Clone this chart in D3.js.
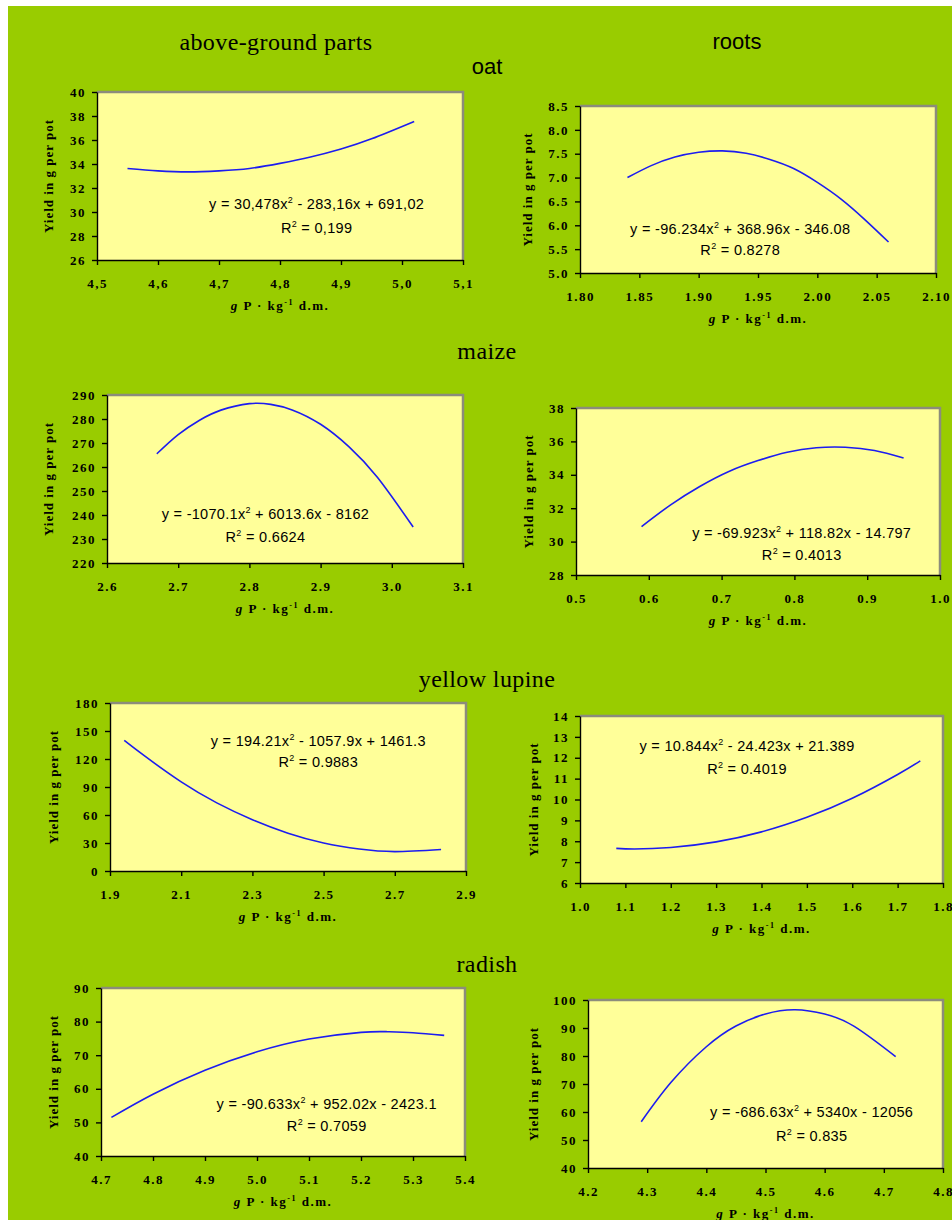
<!DOCTYPE html>
<html>
<head>
<meta charset="utf-8">
<script src="https://cdn.jsdelivr.net/npm/d3@7"></script>
<style>
  body { margin: 0; background: #fff; }
  .tick text { font-family: "Liberation Serif", serif; font-weight: bold; font-size: 13px; letter-spacing: 1.5px; fill: #000; }
  .domain, .tick line { stroke: #000; stroke-width: 1.4; }
</style>
</head>
<body>
<svg id="chart" width="952" height="1220"></svg>
<script>
// headings
const columnTitles = ["above-ground parts", "roots"];
const cropNames = ["oat", "maize", "yellow lupine", "radish"];
const yAxisTitle = "Yield in g per pot";

// oat - above-ground parts
const oatShootX = [4.55, 4.60, 4.65, 4.70, 4.75, 4.80, 4.85, 4.90, 4.95, 5.02];
const oatShootY = [33.62, 33.43, 33.34, 33.43, 33.63, 34.05, 34.58, 35.25, 36.1, 37.55];
const oatShootXTicks = ["4,5", "4,6", "4,7", "4,8", "4,9", "5,0", "5,1"];
const oatShootYTicks = ["26", "28", "30", "32", "34", "36", "38", "40"];
const oatShootEq = ["y = 30,478x", "2", " - 283,16x + 691,02", "R", "2", " = 0,199"];

// oat - roots
const oatRootX = [1.84, 1.86, 1.88, 1.90, 1.92, 1.94, 1.96, 1.98, 2.00, 2.02, 2.04, 2.06];
const oatRootY = [7.0, 7.25, 7.43, 7.53, 7.56, 7.51, 7.38, 7.19, 6.9, 6.55, 6.12, 5.65];
const oatRootXTicks = ["1.80", "1.85", "1.90", "1.95", "2.00", "2.05", "2.10"];
const oatRootYTicks = ["5.0", "5.5", "6.0", "6.5", "7.0", "7.5", "8.0", "8.5"];
const oatRootEq = ["y = -96.234x", "2", " + 368.96x - 346.08", "R", "2", " = 0.8278"];

// maize - above-ground parts
const maizeShootX = [2.67, 2.70, 2.73, 2.76, 2.80, 2.83, 2.86, 2.90, 2.94, 2.98, 3.03];
const maizeShootY = [265.5, 273.5, 279.5, 283.7, 286.4, 286.1, 283.8, 277.8, 268.4, 255.6, 235];
const maizeShootXTicks = ["2.6", "2.7", "2.8", "2.9", "3.0", "3.1"];
const maizeShootYTicks = ["220", "230", "240", "250", "260", "270", "280", "290"];
const maizeShootEq = ["y = -1070.1x", "2", " + 6013.6x - 8162", "R", "2", " = 0.6624"];

// maize - roots
const maizeRootX = [0.59, 0.63, 0.67, 0.71, 0.75, 0.79, 0.83, 0.87, 0.91, 0.95];
const maizeRootY = [30.9, 32.2, 33.3, 34.2, 34.85, 35.35, 35.62, 35.65, 35.45, 35.0];
const maizeRootXTicks = ["0.5", "0.6", "0.7", "0.8", "0.9", "1.0"];
const maizeRootYTicks = ["28", "30", "32", "34", "36", "38"];
const maizeRootEq = ["y = -69.923x", "2", " + 118.82x - 14.797", "R", "2", " = 0.4013"];

// yellow lupine - above-ground parts
const lupineShootX = [1.94, 2.0, 2.1, 2.2, 2.3, 2.4, 2.5, 2.6, 2.7, 2.83];
const lupineShootY = [140, 122.5, 95.5, 73, 55, 40.5, 30, 23.5, 20.8, 23];
const lupineShootXTicks = ["1.9", "2.1", "2.3", "2.5", "2.7", "2.9"];
const lupineShootYTicks = ["0", "30", "60", "90", "120", "150", "180"];
const lupineShootEq = ["y = 194.21x", "2", " - 1057.9x + 1461.3", "R", "2", " = 0.9883"];

// yellow lupine - roots
const lupineRootX = [1.08, 1.12, 1.2, 1.3, 1.4, 1.5, 1.6, 1.7, 1.75];
const lupineRootY = [7.66, 7.63, 7.7, 7.97, 8.45, 9.15, 10.06, 11.2, 11.85];
const lupineRootXTicks = ["1.0", "1.1", "1.2", "1.3", "1.4", "1.5", "1.6", "1.7", "1.8"];
const lupineRootYTicks = ["6", "7", "8", "9", "10", "11", "12", "13", "14"];
const lupineRootEq = ["y = 10.844x", "2", " - 24.423x + 21.389", "R", "2", " = 0.4019"];

// radish - above-ground parts
const radishShootX = [4.72, 4.8, 4.9, 5.0, 5.1, 5.2, 5.25, 5.3, 5.36];
const radishShootY = [51.5, 58.4, 65.5, 71, 74.8, 76.8, 77, 76.7, 75.9];
const radishShootXTicks = ["4.7", "4.8", "4.9", "5.0", "5.1", "5.2", "5.3", "5.4"];
const radishShootYTicks = ["40", "50", "60", "70", "80", "90"];
const radishShootEq = ["y = -90.633x", "2", " + 952.02x - 2423.1", "R", "2", " = 0.7059"];

// radish - roots
const radishRootX = [4.29, 4.34, 4.40, 4.45, 4.50, 4.55, 4.60, 4.65, 4.72];
const radishRootY = [56.5, 70.5, 83.3, 90.7, 95, 96.5, 95, 90.6, 79.8];
const radishRootXTicks = ["4.2", "4.3", "4.4", "4.5", "4.6", "4.7", "4.8"];
const radishRootYTicks = ["40", "50", "60", "70", "80", "90", "100"];
const radishRootEq = ["y = -686.63x", "2", " + 5340x - 12056", "R", "2", " = 0.835"];

const num = s => +s.replace(",", ".");

// layout: plot box [left, top, right, bottom], label offsets
const panels = [
  { xs: oatShootX, ys: oatShootY, xt: oatShootXTicks, yt: oatShootYTicks, eq: oatShootEq,
    box: [97, 92, 463, 260], eqPos: [0.60, 0.667, 0.81], yTitleOff: 49 },
  { xs: oatRootX, ys: oatRootY, xt: oatRootXTicks, yt: oatRootYTicks, eq: oatRootEq,
    box: [580, 106, 936, 273], eqPos: [0.45, 0.737, 0.862], yTitleOff: 53 },
  { xs: maizeShootX, ys: maizeShootY, xt: maizeShootXTicks, yt: maizeShootYTicks, eq: maizeShootEq,
    box: [107, 395, 463, 563], eqPos: [0.445, 0.708, 0.845], yTitleOff: 59 },
  { xs: maizeRootX, ys: maizeRootY, xt: maizeRootXTicks, yt: maizeRootYTicks, eq: maizeRootEq,
    box: [576, 408, 940, 575], eqPos: [0.62, 0.749, 0.88], yTitleOff: 48 },
  { xs: lupineShootX, ys: lupineShootY, xt: lupineShootXTicks, yt: lupineShootYTicks, eq: lupineShootEq,
    box: [110, 703, 466, 871], eqPos: [0.585, 0.226, 0.351], yTitleOff: 57 },
  { xs: lupineRootX, ys: lupineRootY, xt: lupineRootXTicks, yt: lupineRootYTicks, eq: lupineRootEq,
    box: [580, 716, 943, 883], eqPos: [0.46, 0.18, 0.317], yTitleOff: 47 },
  { xs: radishShootX, ys: radishShootY, xt: radishShootXTicks, yt: radishShootYTicks, eq: radishShootEq,
    box: [101, 988, 465, 1156], eqPos: [0.62, 0.69, 0.82], yTitleOff: 48 },
  { xs: radishRootX, ys: radishRootY, xt: radishRootXTicks, yt: radishRootYTicks, eq: radishRootEq,
    box: [588, 1000, 943, 1168], eqPos: [0.63, 0.667, 0.81], yTitleOff: 55 }
];

const svg = d3.select("#chart");

// green background
svg.append("rect")
  .attr("x", 8).attr("y", 6)
  .attr("width", 944).attr("height", 1214)
  .attr("fill", "#99cc00");

// column headings
svg.append("text")
  .attr("x", 276).attr("y", 50)
  .attr("text-anchor", "middle")
  .style("font-family", "'Liberation Serif', serif").style("font-size", "24px")
  .style("letter-spacing", "0.4px")
  .text(columnTitles[0]);
svg.append("text")
  .attr("x", 737).attr("y", 49)
  .attr("text-anchor", "middle")
  .style("font-family", "'Liberation Sans', sans-serif").style("font-size", "22px")
  .text(columnTitles[1]);

// crop headings
const cropY = [74, 359, 687, 972];
cropNames.forEach((c, i) => {
  svg.append("text")
    .attr("x", 487).attr("y", cropY[i])
    .attr("text-anchor", "middle")
    .style("font-family", i === 0 ? "'Liberation Sans', sans-serif" : "'Liberation Serif', serif")
    .style("font-size", i === 0 ? "22px" : "24px")
    .style("letter-spacing", i === 0 ? "0px" : "0.4px")
    .text(c);
});

function drawPanel(p) {
  const [x0, y0, x1, y1] = p.box;
  const g = svg.append("g");

  const xVals = p.xt.map(num), yVals = p.yt.map(num);
  const x = d3.scaleLinear().domain(d3.extent(xVals)).range([x0, x1]);
  const y = d3.scaleLinear().domain(d3.extent(yVals)).range([y1, y0]);

  // plot area + grey frame
  g.append("rect")
    .attr("x", x0).attr("y", y0)
    .attr("width", x1 - x0).attr("height", y1 - y0)
    .attr("fill", "#ffff99");
  g.append("path")
    .attr("d", `M${x0},${y0}H${x1}V${y1}`)
    .attr("fill", "none")
    .attr("stroke", "#8c8c7c")
    .attr("stroke-width", 2.5);

  // axes
  g.append("g")
    .attr("transform", `translate(0,${y1})`)
    .call(d3.axisBottom(x).tickValues(xVals).tickFormat((d, i) => p.xt[i])
      .tickSize(5).tickSizeOuter(0).tickPadding(14));
  g.append("g")
    .attr("transform", `translate(${x0},0)`)
    .call(d3.axisLeft(y).tickValues(yVals).tickFormat((d, i) => p.yt[i])
      .tickSize(5).tickSizeOuter(0).tickPadding(6));

  // trend curve
  const pts = p.xs.map((v, i) => [v, p.ys[i]]);
  g.append("path")
    .datum(pts)
    .attr("fill", "none")
    .attr("stroke", "#1c1cf0")
    .attr("stroke-width", 1.6)
    .attr("d", d3.line().x(d => x(d[0])).y(d => y(d[1])).curve(d3.curveNatural));

  // equation and R²
  const cx = x0 + p.eqPos[0] * (x1 - x0);
  const eqFont = "'Liberation Sans', Arial, sans-serif";
  const t1 = g.append("text")
    .attr("x", cx).attr("y", y0 + p.eqPos[1] * (y1 - y0) + 5)
    .attr("text-anchor", "middle")
    .style("font-family", eqFont).style("font-size", "14.5px")
    .style("letter-spacing", "0.3px");
  t1.append("tspan").text(p.eq[0]);
  t1.append("tspan").attr("dy", -6).style("font-size", "9px").text(p.eq[1]);
  t1.append("tspan").attr("dy", 6).text(p.eq[2]);
  const t2 = g.append("text")
    .attr("x", cx).attr("y", y0 + p.eqPos[2] * (y1 - y0) + 5)
    .attr("text-anchor", "middle")
    .style("font-family", eqFont).style("font-size", "14.5px")
    .style("letter-spacing", "0.3px");
  t2.append("tspan").text(p.eq[3]);
  t2.append("tspan").attr("dy", -6).style("font-size", "9px").text(p.eq[4]);
  t2.append("tspan").attr("dy", 6).text(p.eq[5]);

  // y axis title
  g.append("text")
    .attr("transform", `translate(${x0 - p.yTitleOff},${(y0 + y1) / 2}) rotate(-90)`)
    .attr("text-anchor", "middle")
    .attr("dy", "0.35em")
    .style("font-family", "'Liberation Serif', serif")
    .style("font-weight", "bold").style("font-size", "13px")
    .style("letter-spacing", "1px")
    .text(yAxisTitle);

  // x axis title: g P · kg-1 d.m.
  const xt = g.append("text")
    .attr("x", (x0 + x1) / 2).attr("y", y1 + 50)
    .attr("text-anchor", "middle")
    .style("font-family", "'Liberation Serif', serif")
    .style("font-weight", "bold").style("font-size", "13px")
    .style("letter-spacing", "1.5px");
  xt.append("tspan").style("font-style", "italic").text("g");
  xt.append("tspan").text(" P · kg");
  xt.append("tspan").attr("dy", -5).style("font-size", "8px").text("-1");
  xt.append("tspan").attr("dy", 5).text(" d.m.");
}

panels.forEach(drawPanel);
</script>
</body>
</html>
